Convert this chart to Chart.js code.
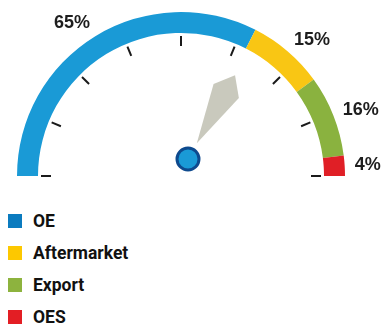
<!DOCTYPE html>
<html>
<head>
  <script src="https://cdn.jsdelivr.net/npm/chart.js"></script>
  <style>
    body {
      margin: 0;
      background: #fff;
      width: 387px;
      height: 326px;
      position: relative;
      overflow: hidden;
    }
    #gauge {
      position: absolute;
      left: 0;
      top: 0;
    }
    .legend {
      position: absolute;
      left: 8px;
      top: 212px;
      font-family: Roboto, "Liberation Sans", Arial, sans-serif;
      font-weight: bold;
      font-size: 17.5px;
      color: #111;
    }
    .legend-item {
      height: 32px;
      display: flex;
      align-items: flex-start;
    }
    .legend-box {
      width: 14px;
      height: 14px;
      margin-top: 2px;
      margin-right: 11px;
    }
    .legend-item span {
      line-height: 18px;
    }
  </style>
</head>
<body>
  <canvas id="gauge" width="387" height="190"></canvas>
  <div class="legend" id="legend"></div>

  <script>
    const categories = ['OE', 'Aftermarket', 'Export', 'OES'];
    const shares = [65, 15, 16, 4];
    const shareLabels = ['65%', '15%', '16%', '4%'];
    const arcColors = ['#1a9ad6', '#f9c614', '#8ab23f', '#e01f26'];
    const legendColors = ['#0b7bbf', '#fdc800', '#8db33e', '#e31e24'];
    const needleValue = 66.3; // percent of the dial, from the left end
    const dialTicks = [0, 12.5, 25, 37.5, 50, 62.5, 75, 87.5, 100];

    // build the legend from the arrays
    const legend = document.getElementById('legend');
    categories.forEach((name, i) => {
      const item = document.createElement('div');
      item.className = 'legend-item';
      item.innerHTML = '<div class="legend-box" style="background:' + legendColors[i] + '"></div><span>' + name + '</span>';
      legend.appendChild(item);
    });

    // angle on the dial (canvas radians) for a percent value
    function dialAngle(pct) {
      return Math.PI + (pct / 100) * Math.PI;
    }

    const gaugeExtras = {
      id: 'gaugeExtras',
      afterDatasetsDraw(chart) {
        const ctx = chart.ctx;
        const arcs = chart.getDatasetMeta(0).data;
        const cx = arcs[0].x;
        const cy = arcs[0].y;
        const inner = arcs[0].innerRadius;
        const outer = arcs[0].outerRadius;

        // tick marks inside the ring
        ctx.save();
        ctx.strokeStyle = '#1a1a1a';
        ctx.lineWidth = 2;
        dialTicks.forEach(t => {
          const a = dialAngle(t);
          ctx.beginPath();
          ctx.moveTo(cx + Math.cos(a) * (inner - 13), cy + Math.sin(a) * (inner - 13));
          ctx.lineTo(cx + Math.cos(a) * (inner - 3), cy + Math.sin(a) * (inner - 3));
          ctx.stroke();
        });
        ctx.restore();

        // percentage labels outside the ring
        ctx.save();
        ctx.font = 'bold 18px "Liberation Sans", Arial, sans-serif';
        ctx.fillStyle = '#1e1e1e';
        ctx.textBaseline = 'middle';
        arcs.forEach((arc, i) => {
          const a = (arc.startAngle + arc.endAngle) / 2;
          const r = outer + 10;
          const x = cx + Math.cos(a) * r;
          const y = cy + Math.sin(a) * r + Math.sin(a) * 5;
          ctx.textAlign = Math.cos(a) < 0 ? 'right' : 'left';
          ctx.fillText(shareLabels[i], x, y);
        });
        ctx.restore();

        // needle
        const px = cx + 7;
        const py = cy - 17;
        const na = dialAngle(needleValue);
        const ux = Math.cos(na), uy = Math.sin(na);
        const vx = -uy, vy = ux;
        const pt = (u, v) => [px + ux * u + vx * v, py + uy * u + vy * v];
        const shape = [pt(18, 0), pt(78, -14.5), pt(96, 0), pt(78, 14.5)];
        ctx.save();
        ctx.fillStyle = '#c9c9bd';
        ctx.beginPath();
        shape.forEach((p, i) => i ? ctx.lineTo(p[0], p[1]) : ctx.moveTo(p[0], p[1]));
        ctx.closePath();
        ctx.fill();

        // pin
        ctx.beginPath();
        ctx.arc(px, py, 11, 0, Math.PI * 2);
        ctx.fillStyle = '#1a9ad6';
        ctx.fill();
        ctx.lineWidth = 3;
        ctx.strokeStyle = '#0e4a8e';
        ctx.stroke();
        ctx.restore();
      }
    };

    new Chart(document.getElementById('gauge'), {
      type: 'doughnut',
      data: {
        labels: categories,
        datasets: [{
          data: shares,
          backgroundColor: arcColors,
          borderWidth: 0,
          hoverOffset: 0
        }]
      },
      options: {
        responsive: false,
        animation: false,
        rotation: -90,
        circumference: 180,
        cutout: '87.2%',
        layout: {
          padding: { left: 17, right: 42, top: 12, bottom: 14 }
        },
        plugins: {
          legend: { display: false },
          tooltip: { enabled: false }
        }
      },
      plugins: [gaugeExtras]
    });
  </script>
</body>
</html>
